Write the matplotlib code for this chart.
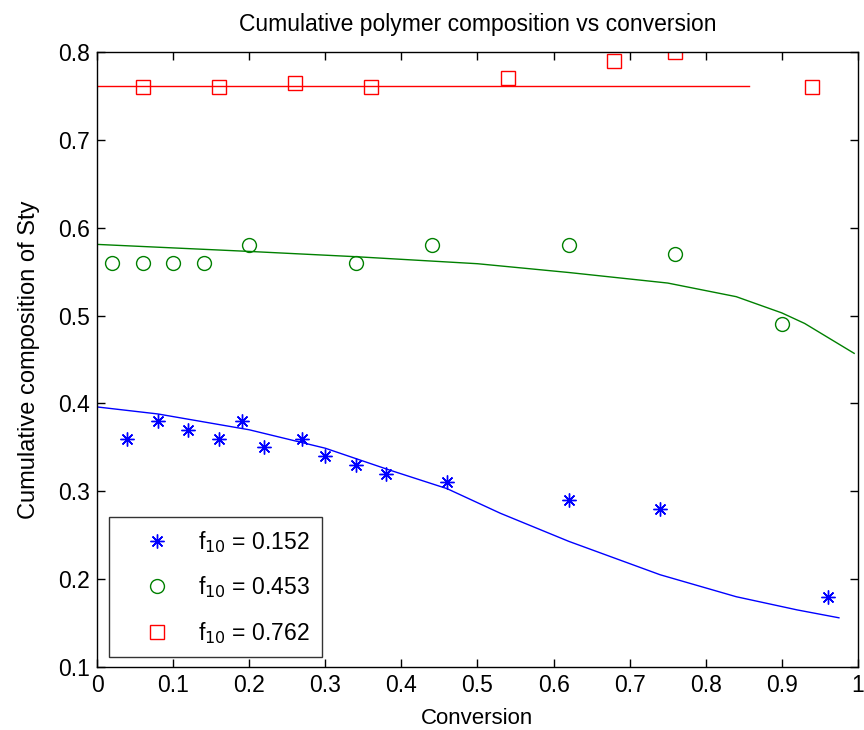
import matplotlib
matplotlib.use('Agg')
import matplotlib.pyplot as plt

plt.rcParams['font.family'] = ['Liberation Sans', 'DejaVu Sans']

# experimental points
x_152 = [0.04, 0.08, 0.12, 0.16, 0.19, 0.22, 0.27, 0.30, 0.34, 0.38, 0.46, 0.62, 0.74, 0.96]
y_152 = [0.36, 0.38, 0.37, 0.36, 0.38, 0.35, 0.36, 0.34, 0.33, 0.32, 0.31, 0.29, 0.28, 0.18]

x_453 = [0.02, 0.06, 0.10, 0.14, 0.20, 0.34, 0.44, 0.62, 0.76, 0.90]
y_453 = [0.56, 0.56, 0.56, 0.56, 0.58, 0.56, 0.58, 0.58, 0.57, 0.49]

x_762 = [0.06, 0.16, 0.26, 0.36, 0.54, 0.68, 0.76, 0.94]
y_762 = [0.76, 0.76, 0.765, 0.76, 0.77, 0.79, 0.80, 0.76]

# model curves
xc_152 = [0.0, 0.08, 0.2, 0.3, 0.385, 0.46, 0.53, 0.62, 0.74, 0.84, 0.92, 0.975]
yc_152 = [0.396, 0.388, 0.370, 0.349, 0.324, 0.303, 0.275, 0.243, 0.205, 0.180, 0.165, 0.156]

xc_453 = [0.0, 0.15, 0.2, 0.34, 0.43, 0.5, 0.62, 0.75, 0.84, 0.9, 0.93, 0.995]
yc_453 = [0.581, 0.575, 0.573, 0.567, 0.5625, 0.559, 0.549, 0.537, 0.5215, 0.503, 0.491, 0.457]

xc_762 = [0.0, 0.857]
yc_762 = [0.761, 0.761]

labels = ['f$_{10}$ = 0.152', 'f$_{10}$ = 0.453', 'f$_{10}$ = 0.762']

blue = (0, 0, 1)
green = (0, 0.5, 0)
red = (1, 0, 0)


def draw_graph():
    fig = plt.figure(figsize=(8.64, 7.30), dpi=100)
    ax = fig.add_axes([0.1123, 0.0863, 0.8807, 0.8425])

    ax.plot(x_152, y_152, linestyle='none', marker=(8, 2, 0), markersize=10,
            markeredgewidth=1.0, color=blue, label=labels[0])
    ax.plot(x_453, y_453, linestyle='none', marker='o', markersize=10,
            markerfacecolor='none', markeredgewidth=1.0, color=green, label=labels[1])
    ax.plot(x_762, y_762, linestyle='none', marker='s', markersize=10,
            markerfacecolor='none', markeredgewidth=1.0, color=red, label=labels[2])

    ax.plot(xc_152, yc_152, color=blue, linewidth=1.0)
    ax.plot(xc_453, yc_453, color=green, linewidth=1.0)
    ax.plot(xc_762, yc_762, color=red, linewidth=1.0)

    ax.set_xlim(0, 1)
    ax.set_ylim(0.1, 0.8)
    ax.set_xticks([i / 10 for i in range(11)])
    ax.set_xticklabels(['0', '0.1', '0.2', '0.3', '0.4', '0.5', '0.6', '0.7', '0.8', '0.9', '1'])
    ax.set_yticks([0.1, 0.2, 0.3, 0.4, 0.5, 0.6, 0.7, 0.8])
    ax.tick_params(direction='in', top=True, right=True, length=6, width=1,
                   labelsize=16.5, pad=5)
    for s in ax.spines.values():
        s.set_linewidth(1.0)

    ax.set_title('Cumulative polymer composition vs conversion', fontsize=16.5, pad=15)
    ax.set_xlabel('Conversion', fontsize=16, labelpad=8)
    ax.set_ylabel('Cumulative composition of Sty', fontsize=17, labelpad=13)

    leg = ax.legend(loc='lower left', bbox_to_anchor=(0.0158, 0.0163), fontsize=16.5,
                    frameon=True, fancybox=False, edgecolor='black', handlelength=3.2,
                    handletextpad=0.2, borderpad=0.5, labelspacing=0.85, borderaxespad=0)
    leg.get_frame().set_linewidth(1.0)

    fig.savefig('out.png', dpi=100)


def main():
    draw_graph()


if __name__ == '__main__':
    main()
